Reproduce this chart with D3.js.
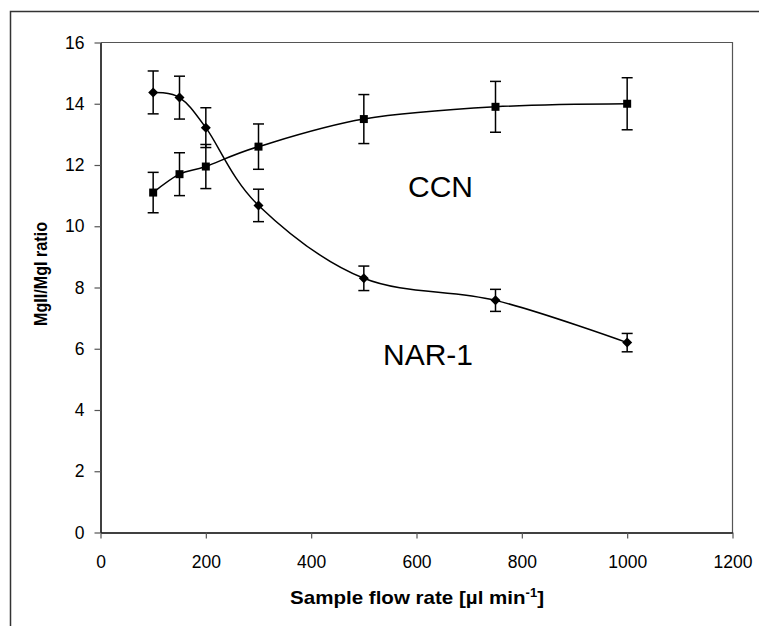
<!DOCTYPE html>
<html>
<head>
<meta charset="utf-8">
<script src="https://cdn.jsdelivr.net/npm/d3@7"></script>
<style>
  body { margin: 0; background: #fff; }
  text { font-family: "Liberation Sans", Arial, sans-serif; }
</style>
</head>
<body>
<div id="chart"></div>
<script>
const width = 759;
const height = 626;

// sample flow rate (µl/min)
const flowRates = [100, 150, 200, 300, 500, 750, 1000];
// CCN series (squares)
const ccnValues = [11.1, 11.7, 11.95, 12.6, 13.5, 13.9, 14.0];
const ccnErrors = [0.66, 0.7, 0.72, 0.74, 0.8, 0.83, 0.85];
// NAR-1 series (diamonds)
const narValues = [14.37, 14.2, 13.22, 10.68, 8.3, 7.58, 6.2];
const narErrors = [0.7, 0.7, 0.65, 0.53, 0.4, 0.36, 0.3];

const xTicks = [0, 200, 400, 600, 800, 1000, 1200];
const yTicks = [0, 2, 4, 6, 8, 10, 12, 14, 16];

const svg = d3.select("#chart")
    .append("svg")
    .attr("width", width)
    .attr("height", height);

// outer frame (cut off at right and bottom edge)
svg.append("rect")
    .attr("x", 10.5)
    .attr("y", 11.5)
    .attr("width", 900)
    .attr("height", 800)
    .attr("fill", "none")
    .attr("stroke", "#333")
    .attr("stroke-width", 1.5);

const xScale = d3.scaleLinear()
    .domain([0, 1200])
    .range([100.5, 732.5]);

const yScale = d3.scaleLinear()
    .domain([0, 16])
    .range([532.5, 42.5]);

// plot area border (top and right)
svg.append("path")
    .attr("d", `M${xScale(0)},${yScale(16)}H${xScale(1200)}V${yScale(0)}`)
    .attr("fill", "none")
    .attr("stroke", "#555")
    .attr("stroke-width", 1.2);

// Y axis
const yAxis = svg.append("g")
    .attr("transform", `translate(${xScale(0)},0)`)
    .call(d3.axisLeft(yScale)
        .tickValues(yTicks)
        .tickFormat(d3.format("d"))
        .tickSize(6)
        .tickSizeOuter(0)
        .tickPadding(10));

// X axis
const xAxis = svg.append("g")
    .attr("transform", `translate(0,${yScale(0)})`)
    .call(d3.axisBottom(xScale)
        .tickValues(xTicks)
        .tickFormat(d3.format("d"))
        .tickSize(6)
        .tickSizeOuter(0)
        .tickPadding(17));

[xAxis, yAxis].forEach(ax => {
    ax.select(".domain").attr("stroke", "#000").attr("stroke-width", 1.5);
    ax.selectAll(".tick line").attr("stroke", "#555").attr("stroke-width", 1.2);
    ax.selectAll(".tick text")
        .attr("fill", "#000")
        .style("font-family", "'Liberation Sans', Arial, sans-serif")
        .style("font-size", "17.5px");
});

// axis titles
const xTitle = svg.append("text")
    .attr("x", 417)
    .attr("y", 604)
    .attr("text-anchor", "middle")
    .style("font-size", "19px")
    .style("font-weight", "bold")
    .attr("textLength", 254)
    .attr("lengthAdjust", "spacingAndGlyphs");
xTitle.append("tspan").text("Sample flow rate [µl min");
xTitle.append("tspan").attr("dy", -7).style("font-size", "12px").text("-1");
xTitle.append("tspan").attr("dy", 7).text("]");

svg.append("text")
    .attr("transform", "translate(47,274) rotate(-90)")
    .attr("text-anchor", "middle")
    .style("font-size", "18px")
    .style("font-weight", "bold")
    .attr("textLength", 104)
    .attr("lengthAdjust", "spacingAndGlyphs")
    .text("MgII/MgI ratio");

// series
const series = [
    { name: "CCN", values: ccnValues, errors: ccnErrors, symbol: d3.symbolSquare, size: 64, rotate: 0 },
    { name: "NAR-1", values: narValues, errors: narErrors, symbol: d3.symbolSquare, size: 50, rotate: 45 }
];

const line = d3.line()
    .x(d => xScale(d.x))
    .y(d => yScale(d.y))
    .curve(d3.curveCardinal.tension(0));

series.forEach(s => {
    const pts = flowRates.map((x, i) => ({ x: x, y: s.values[i], e: s.errors[i] }));

    svg.append("path")
        .datum(pts)
        .attr("d", line)
        .attr("fill", "none")
        .attr("stroke", "#000")
        .attr("stroke-width", 1.5);

    const eb = svg.append("g")
        .attr("stroke", "#000")
        .attr("stroke-width", 1.5)
        .selectAll("g")
        .data(pts)
        .enter()
        .append("g");

    eb.append("line")
        .attr("x1", d => xScale(d.x))
        .attr("x2", d => xScale(d.x))
        .attr("y1", d => yScale(d.y - d.e))
        .attr("y2", d => yScale(d.y + d.e));

    eb.append("line")
        .attr("x1", d => xScale(d.x) - 5.5)
        .attr("x2", d => xScale(d.x) + 5.5)
        .attr("y1", d => yScale(d.y + d.e))
        .attr("y2", d => yScale(d.y + d.e));

    eb.append("line")
        .attr("x1", d => xScale(d.x) - 5.5)
        .attr("x2", d => xScale(d.x) + 5.5)
        .attr("y1", d => yScale(d.y - d.e))
        .attr("y2", d => yScale(d.y - d.e));

    svg.selectAll(null)
        .data(pts)
        .enter()
        .append("path")
        .attr("transform", d => `translate(${xScale(d.x)},${yScale(d.y)}) rotate(${s.rotate})`)
        .attr("d", d3.symbol().type(s.symbol).size(s.size))
        .attr("fill", "#000");
});

// series labels
svg.append("text")
    .attr("x", 408)
    .attr("y", 197)
    .style("font-size", "30px")
    .text("CCN");

svg.append("text")
    .attr("x", 383)
    .attr("y", 365)
    .style("font-size", "30px")
    .text("NAR-1");
</script>
</body>
</html>
